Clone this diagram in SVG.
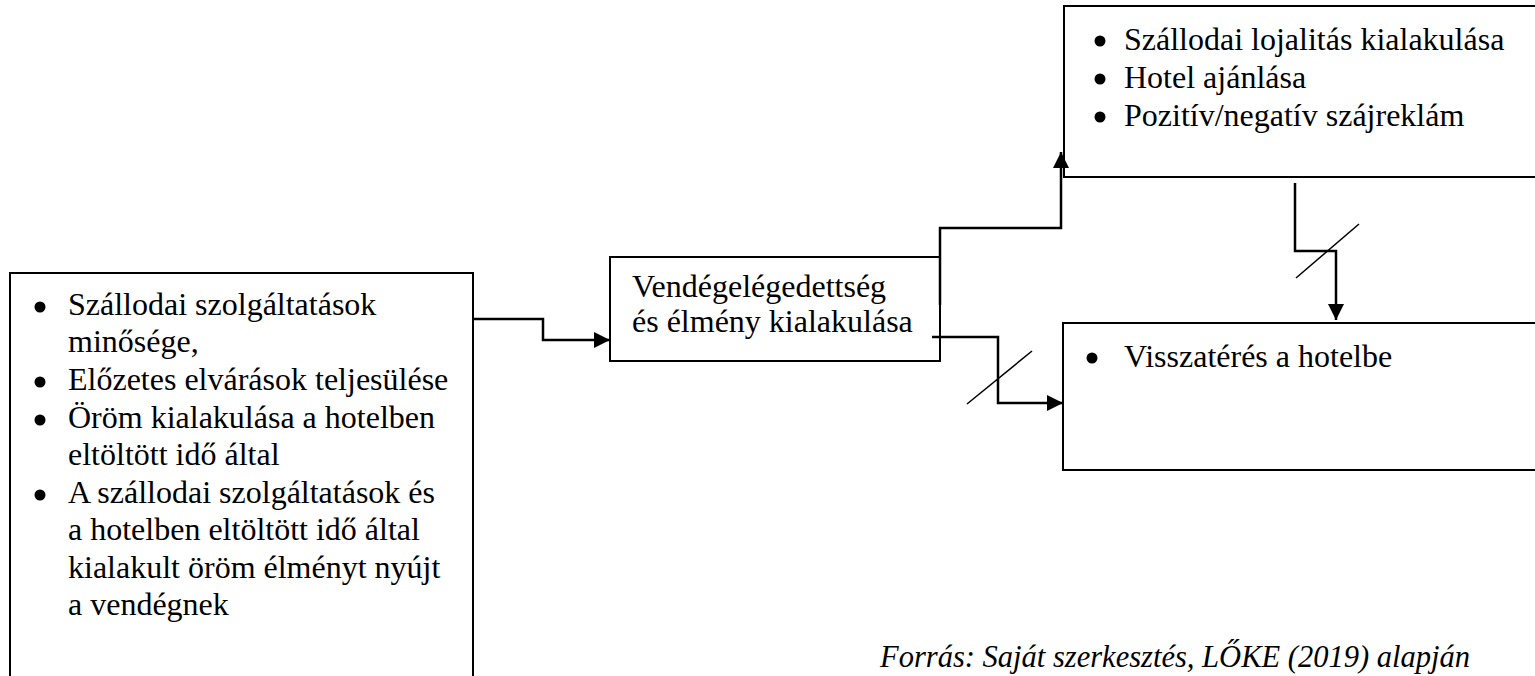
<svg xmlns="http://www.w3.org/2000/svg" width="1535" height="676" viewBox="0 0 1535 676">
<style>
.box{fill:#fff;stroke:#000;stroke-width:2}
.t{font-family:"Liberation Serif","Times New Roman",serif;font-size:32px;fill:#000}
.it{font-style:italic}
.b{fill:#000}
.c{fill:none;stroke:#000;stroke-width:2.5}
.s{fill:none;stroke:#000;stroke-width:1.5}
</style>
<defs>
<marker id="ah" markerUnits="userSpaceOnUse" markerWidth="18" markerHeight="18" viewBox="0 0 18 18" refX="16" refY="9" orient="auto">
<path d="M0,1 L16,9 L0,17 Z" fill="#000"/>
</marker>
</defs>
<rect width="1535" height="676" fill="#fff"/>

<g id="node-left">
<rect class="box" x="10" y="273" width="463" height="420"/>
<circle class="b" cx="40" cy="307" r="5.5"/>
<circle class="b" cx="40" cy="382" r="5.5"/>
<circle class="b" cx="40" cy="420" r="5.5"/>
<circle class="b" cx="40" cy="495" r="5.5"/>
<text class="t" x="68" y="315">Szállodai szolgáltatások</text>
<text class="t" x="68" y="352">minősége,</text>
<text class="t" x="68" y="390">Előzetes elvárások teljesülése</text>
<text class="t" x="68" y="428">Öröm kialakulása a hotelben</text>
<text class="t" x="68" y="465">eltöltött idő által</text>
<text class="t" x="68" y="503">A szállodai szolgáltatások és</text>
<text class="t" x="68" y="540">a hotelben eltöltött idő által</text>
<text class="t" x="68" y="578">kialakult öröm élményt nyújt</text>
<text class="t" x="68" y="615">a vendégnek</text>
</g>

<g id="node-mid">
<rect class="box" x="610" y="257" width="330" height="104"/>
<text class="t" x="632" y="297">Vendégelégedettség</text>
<text class="t" x="632" y="332">és élmény kialakulása</text>
</g>

<g id="node-top">
<rect class="box" x="1064" y="6" width="490" height="171"/>
<circle class="b" cx="1100" cy="41" r="5.5"/>
<circle class="b" cx="1100" cy="79" r="5.5"/>
<circle class="b" cx="1100" cy="117" r="5.5"/>
<text class="t" x="1124" y="50">Szállodai lojalitás kialakulása</text>
<text class="t" x="1124" y="88">Hotel ajánlása</text>
<text class="t" x="1124" y="126">Pozitív/negatív szájreklám</text>
</g>

<g id="node-return">
<rect class="box" x="1063" y="323" width="490" height="147"/>
<circle class="b" cx="1092" cy="358" r="5.5"/>
<text class="t" x="1124" y="367">Visszatérés a hotelbe</text>
</g>

<g id="connectors">
<path class="c" d="M473,319 H543 V340 H610" marker-end="url(#ah)"/>
<path class="c" d="M940,305 V228 H1061 V152" marker-end="url(#ah)"/>
<path class="c" d="M932,337 H998 V403 H1063" marker-end="url(#ah)"/>
<path class="c" d="M1295,183 V251 H1336 V320" marker-end="url(#ah)"/>
<line class="s" x1="967" y1="404" x2="1032" y2="351"/>
<line class="s" x1="1296" y1="278" x2="1359" y2="224"/>
</g>

<text class="t it" x="880" y="667" font-size="32" textLength="590" lengthAdjust="spacingAndGlyphs">Forrás: Saját szerkesztés, LŐKE (2019) alapján</text>
</svg>
